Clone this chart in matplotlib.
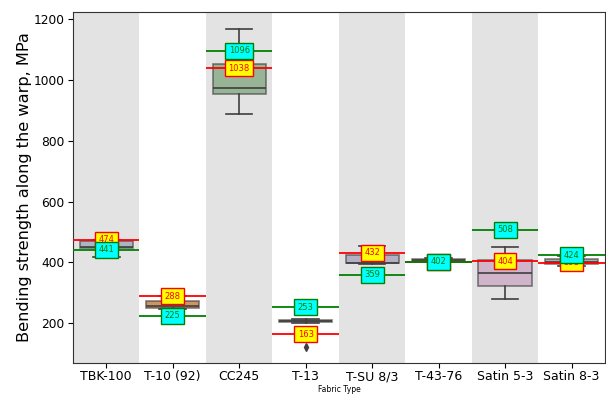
import matplotlib.pyplot as plt

# fabric types on the x axis
fabrics = ["TBK-100", "T-10 (92)", "CC245", "T-13", "T-SU 8/3",
           "T-43-76", "Satin 5-3", "Satin 8-3"]

# box statistics (MPa)
whis_lo = [418, 245, 889, 200, 393, 402, 280, 388]
q1 = [446, 250, 953, 203, 397, 405, 322, 393]
median = [452, 258, 973, 206, 398, 408, 366, 400]
q3 = [470, 273, 1051, 209, 425, 412, 409, 412]
whis_hi = [475, 290, 1169, 213, 455, 414, 452, 420]
outliers = [[], [], [], [122], [], [], [], []]

# reference lines per fabric
red_vals = [474, 288, 1038, 163, 432, 402, 404, 398]
green_vals = [441, 225, 1096, 253, 359, 402, 508, 424]

box_colors = ["#8d9fb4", "#b85a10", "#6f9c6f", "#707070", "#9d93b3",
              "#b4a23a", "#c79bbd", "#858585"]

fig = plt.figure(figsize=(6.06, 3.94), dpi=100)
ax = fig.add_axes([0.1205, 0.0795, 0.8775, 0.8905])

# alternating background bands
for i in range(len(fabrics)):
    if i % 2 == 0:
        ax.axvspan(i - 0.5, i + 0.5, color="#e3e3e3", zorder=0, lw=0)

stats = []
for i, name in enumerate(fabrics):
    stats.append({"label": name, "whislo": whis_lo[i], "q1": q1[i],
                  "med": median[i], "q3": q3[i], "whishi": whis_hi[i],
                  "fliers": outliers[i]})

bp = ax.bxp(stats, positions=range(len(fabrics)), widths=0.8,
            patch_artist=True, manage_ticks=False,
            boxprops=dict(edgecolor="#3f3f3f", linewidth=1.2),
            medianprops=dict(color="#3f3f3f", linewidth=1.2),
            whiskerprops=dict(color="#3f3f3f", linewidth=1.2),
            capprops=dict(color="#3f3f3f", linewidth=1.2),
            flierprops=dict(marker="d", markersize=4, markerfacecolor="#3f3f3f",
                            markeredgecolor="#3f3f3f"))
for patch, c in zip(bp["boxes"], box_colors):
    patch.set_facecolor(c)
    patch.set_alpha(0.65)
for k in ["whiskers", "caps", "medians"]:
    for ln in bp[k]:
        ln.set_zorder(3)

for i in range(len(fabrics)):
    ax.hlines(red_vals[i], i - 0.5, i + 0.5, color="red", lw=1.3, zorder=4)
    ax.hlines(green_vals[i], i - 0.5, i + 0.5, color="green", lw=1.3, zorder=4)
    ax.text(i, red_vals[i], str(red_vals[i]), ha="center", va="center",
            fontsize=6, color="red", zorder=5,
            bbox=dict(boxstyle="square,pad=0.42", facecolor="yellow",
                      edgecolor="red", lw=1))
    ax.text(i, green_vals[i], str(green_vals[i]), ha="center", va="center",
            fontsize=6, color="green", zorder=6,
            bbox=dict(boxstyle="square,pad=0.42", facecolor="cyan",
                      edgecolor="green", lw=1))

ax.set_xlim(-0.5, len(fabrics) - 0.5)
ax.set_ylim(70, 1224)
ax.set_xticks(range(len(fabrics)))
ax.set_xticklabels(fabrics, fontsize=9)
ax.tick_params(axis="x", pad=2)
ax.tick_params(axis="y", labelsize=8.8, pad=2.5)
ax.set_yticks([200, 400, 600, 800, 1000, 1200])
ax.set_xlabel("Fabric Type", fontsize=5.5)
ax.xaxis.set_label_coords(0.5, -0.064)
ax.set_ylabel("Bending strength along the warp, MPa", fontsize=11.6)
ax.yaxis.set_label_coords(-0.077, 0.5)
for s in ax.spines.values():
    s.set_color("#333333")

fig.savefig("out.png", dpi=100)
